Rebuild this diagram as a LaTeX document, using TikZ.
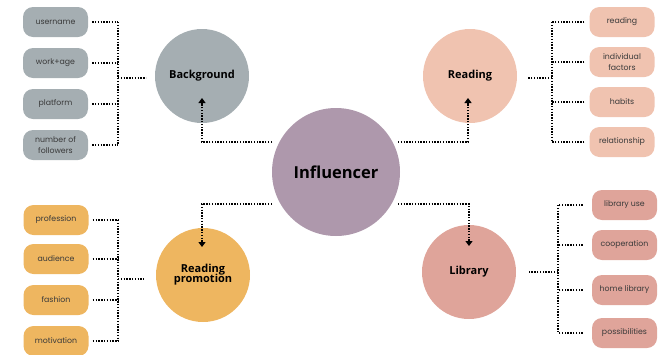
\documentclass[tikz,border=0pt]{standalone}
\usepackage{fontspec}
\setmainfont{Poppins}
\newfontfamily\headfont{Open Sans}
\usepackage{tikz}
\usetikzlibrary{arrows.meta}
\usetikzlibrary{positioning}
\definecolor{slategrey}{HTML}{A5AEB2}
\definecolor{mauve}{HTML}{AE98AC}
\definecolor{peach}{HTML}{F0C3B0}
\definecolor{mustard}{HTML}{EEB660}
\definecolor{rosebrown}{HTML}{DFA49A}
\definecolor{labelgrey}{HTML}{3A3A3A}
\tikzset{
  topic/.style={circle,minimum size=94pt,inner sep=0pt,align=center,
    font=\headfont\bfseries\fontsize{11}{12}\selectfont},
  item/.style={rounded corners=10pt,minimum width=65pt,minimum height=30pt,
    inner sep=1pt,align=center,text=labelgrey,font=\fontsize{7.8}{10.5}\selectfont},
  link/.style={line width=1.5pt,dash pattern=on 1.4pt off 1.4pt},
  tip/.style={-{Triangle[width=7pt,length=5pt]}}
}
\begin{document}
\begin{tikzpicture}[line cap=butt,line join=miter,x=1pt,y=-1pt]
\useasboundingbox (0,0) rectangle (662,354);
% circles
\node[topic,minimum size=128pt,fill=mauve,font=\headfont\bfseries\fontsize{16.5}{18}\selectfont] (inf) at (336,172) {Influencer};
\node[topic,fill=slategrey] (bg) at (202,76) {Background};
\node[topic,fill=peach] (rd) at (470,76) {Reading};
\node[topic,fill=mustard] (rp) at (203,275) {Reading\\[-2pt]promotion};
\node[topic,fill=rosebrown] (lib) at (469,272) {Library};
% items
\foreach \n/\y/\t in {1/22/username,2/63/work+age,3/104/platform,4/145/{number of\\followers}}
\node[item,fill=slategrey] (bg\n) at (55.5,\y) {\t};
\foreach \n/\y/\t in {1/22/reading,2/62/{individual\\factors},3/102/habits,4/142/relationship}
\node[item,fill=peach] (rd\n) at (622,\y) {\t};
\foreach \n/\y/\t in {1/220/profession,2/259/audience,3/300/fashion,4/341/motivation}
\node[item,fill=mustard] (rp\n) at (56,\y) {\t};
\foreach \n/\y/\t in {1/205/library use,2/245/cooperation,3/290/home library,4/333/possibilities}
\node[item,fill=rosebrown] (lib\n) at (624.5,\y) {\t};
% forks
\coordinate (bgfork) at (118,78);
\coordinate (bgend) at (146,78);
\coordinate (rdfork) at (552,78);
\coordinate (rdend) at (527,78);
\coordinate (rpfork) at (118,279);
\coordinate (rpend) at (144,279);
\coordinate (libfork) at (558,272);
\coordinate (libend) at (529,272);
\draw[link] (bgfork) -- (bgend);
\draw[link] (bg1.east -| bgfork) -- (bg4.east -| bgfork);
\foreach \n in {1,2,3,4}
\draw[link] ([xshift=4pt]bg\n.east) -- (bg\n.east -| bgfork);
\draw[link] (rdfork) -- (rdend);
\draw[link] (rd1.west -| rdfork) -- (rd4.west -| rdfork);
\foreach \n in {1,2,3,4}
\draw[link] ([xshift=-5pt]rd\n.west) -- (rd\n.west -| rdfork);
\draw[link] (rpfork) -- (rpend);
\draw[link] (rp1.east -| rpfork) -- (rp4.east -| rpfork);
\foreach \n in {1,2,3,4}
\draw[link] ([xshift=4pt]rp\n.east) -- (rp\n.east -| rpfork);
\draw[link] (libfork) -- (libend);
\draw[link] (lib1.west -| libfork) -- (lib4.west -| libfork);
\foreach \n in {1,2,3,4}
\draw[link] ([xshift=-9pt]lib\n.west) -- (lib\n.west -| libfork);
% links from the centre
\coordinate (bgtip) at (202,98);
\coordinate (rdtip) at (468,98);
\coordinate (rptip) at (202,247);
\coordinate (libtip) at (469,246);
\draw[link,tip] ([shift={(-64,-30)}]inf.center) -| (bgtip);
\draw[link,tip] ([shift={(62,-30)}]inf.center) -| (rdtip);
\draw[link,tip] ([shift={(-64,32)}]inf.center) -| (rptip);
\draw[link,tip] ([shift={(62,32)}]inf.center) -| (libtip);
\end{tikzpicture}
\end{document}
